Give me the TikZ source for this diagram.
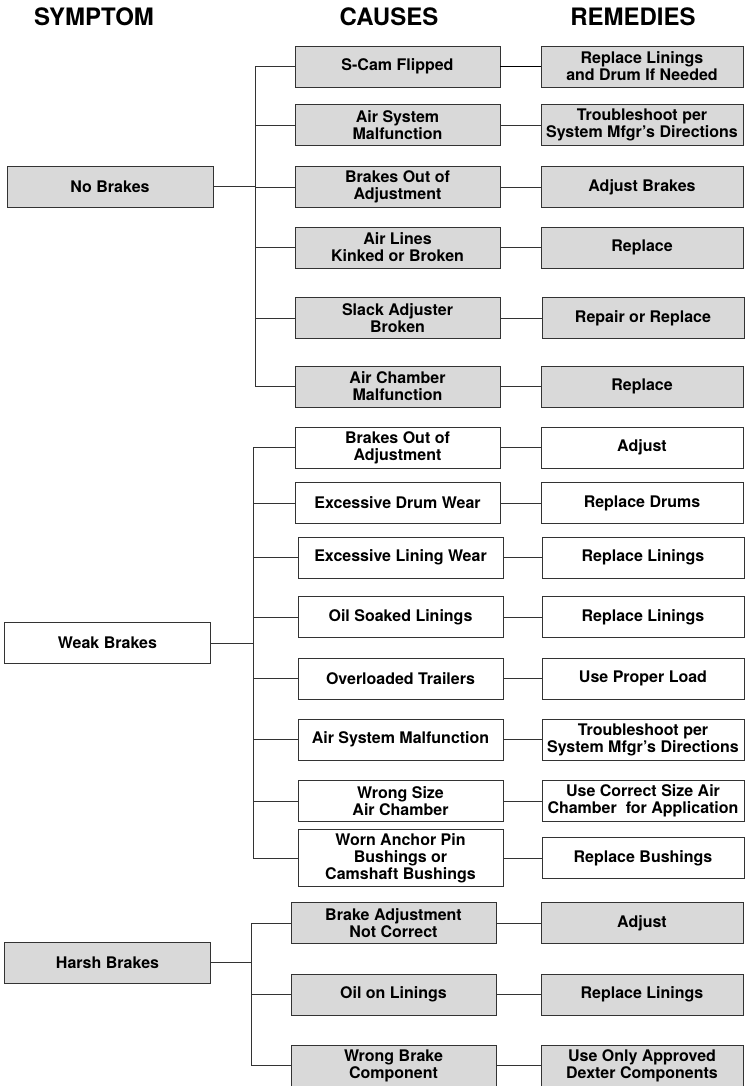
\documentclass[tikz,border=0pt]{standalone}
\usepackage{fontspec}
\setmainfont{TeX Gyre Heros}
\usepackage{tikz}
\tikzset{%
	box/.style      = {draw=black!80, line width=0.9pt, rectangle, inner sep=0pt,
		align=center, font=\bfseries\fontsize{16}{17}\selectfont},
	symptom/.style  = {box, minimum width=206pt, minimum height=41pt}, % Symptom
	cause/.style    = {box, minimum width=205pt, minimum height=41pt}, % Cause
	remedy/.style   = {box, minimum width=202pt, minimum height=41pt}, % Remedy
	filled/.style   = {fill=gray!30},
	unfilled/.style = {fill=white},
	head/.style     = {font=\bfseries\fontsize{24}{24}\selectfont},
	link/.style     = {draw=black!80, line width=0.8pt}
}
\begin{document}
\begin{tikzpicture}[x=1pt,y=-1pt]
	\useasboundingbox (0,0) rectangle (745,1086);
	
	\node[head] at (94,17) (hsym) {SYMPTOM};
	\node[head] at (389,17) (hcau) {CAUSES};
	\node[head] at (633,17) (hrem) {REMEDIES};
	
	% No Brakes
	\node[symptom, filled] at (110,186.5) (nb) {No Brakes};
	\node[cause, filled] at (397.5,66.5) (nbc1) {S-Cam Flipped};
	\node[cause, filled] at (397.5,125) (nbc2) {Air System\\Malfunction};
	\node[cause, filled] at (397.5,187) (nbc3) {Brakes Out of\\Adjustment};
	\node[cause, filled] at (397.5,247.5) (nbc4) {Air Lines\\Kinked or Broken};
	\node[cause, filled] at (397.5,318) (nbc5) {Slack Adjuster\\Broken};
	\node[cause, filled] at (397.5,386.5) (nbc6) {Air Chamber\\Malfunction};
	\node[remedy, filled] at (642,66.5) (nbr1) {Replace Linings\\and Drum If Needed};
	\node[remedy, filled] at (642,125) (nbr2) {Troubleshoot per\\System Mfgr's Directions};
	\node[remedy, filled] at (642,187) (nbr3) {Adjust Brakes};
	\node[remedy, filled] at (642,247.5) (nbr4) {Replace};
	\node[remedy, filled] at (643,318) (nbr5) {Repair or Replace};
	\node[remedy, filled] at (642,386.5) (nbr6) {Replace};
	\coordinate (nbbus) at (255,186.5);
	
	% Weak Brakes
	\node[symptom, unfilled] at (107.5,643) (wb) {Weak Brakes};
	\node[cause, unfilled] at (397.5,447.5) (wbc1) {Brakes Out of\\Adjustment};
	\node[cause, unfilled] at (397.5,503) (wbc2) {Excessive Drum Wear};
	\node[cause, unfilled] at (400.5,557.5) (wbc3) {Excessive Lining Wear};
	\node[cause, unfilled] at (400.5,617) (wbc4) {Oil Soaked Linings};
	\node[cause, unfilled] at (400.5,678.5) (wbc5) {Overloaded Trailers};
	\node[cause, unfilled] at (400.5,739.5) (wbc6) {Air System Malfunction};
	\node[cause, unfilled] at (400.5,801) (wbc7) {Wrong Size\\Air Chamber};
	\node[cause, unfilled, minimum height=57pt] at (400.5,858) (wbc8) {Worn Anchor Pin\\Bushings or\\Camshaft Bushings};
	\node[remedy, unfilled] at (642,447.5) (wbr1) {Adjust};
	\node[remedy, unfilled] at (642,503) (wbr2) {Replace Drums};
	\node[remedy, unfilled] at (643,557.5) (wbr3) {Replace Linings};
	\node[remedy, unfilled] at (643,617) (wbr4) {Replace Linings};
	\node[remedy, unfilled] at (643,678.5) (wbr5) {Use Proper Load};
	\node[remedy, unfilled] at (643,739.5) (wbr6) {Troubleshoot per\\System Mfgr's Directions};
	\node[remedy, unfilled] at (643,801) (wbr7) {Use Correct Size Air\\Chamber\ \ for Application};
	\node[remedy, unfilled] at (643,858) (wbr8) {Replace Bushings};
	\coordinate (wbbus) at (253,643);
	
	% Harsh Brakes
	\node[symptom, filled] at (107.5,962.5) (hb) {Harsh Brakes};
	\node[cause, filled] at (393.5,923) (hbc1) {Brake Adjustment\\Not Correct};
	\node[cause, filled] at (393.5,994.5) (hbc2) {Oil on Linings};
	\node[cause, filled] at (393.5,1065.5) (hbc3) {Wrong Brake\\Component};
	\node[remedy, filled] at (642,923) (hbr1) {Adjust};
	\node[remedy, filled] at (642,994.5) (hbr2) {Replace Linings};
	\node[remedy, filled] at (642,1065.5) (hbr3) {Use Only Approved\\Dexter Components};
	\coordinate (hbbus) at (251,962.5);
	
	\draw[link] (nb) -- (nbbus);
	\draw[link] (nbc1.west) -| (nbbus |- nbc6.west) -- (nbc6.west);
	\draw[link] (nbbus |- nbc2.west) -- (nbc2.west);
	\draw[link] (nbbus |- nbc3.west) -- (nbc3.west);
	\draw[link] (nbbus |- nbc4.west) -- (nbc4.west);
	\draw[link] (nbbus |- nbc5.west) -- (nbc5.west);
	\draw[link, draw=black, line width=1.8pt] (nbc1) -- (nbr1);
	\draw[link] (nbc2) -- (nbr2);
	\draw[link] (nbc3) -- (nbr3);
	\draw[link] (nbc4) -- (nbr4);
	\draw[link] (nbc5) -- (nbr5);
	\draw[link] (nbc6) -- (nbr6);
	
	\draw[link] (wb) -- (wbbus);
	\draw[link] (wbc1.west) -| (wbbus |- wbc8.west) -- (wbc8.west);
	\draw[link] (wbbus |- wbc2.west) -- (wbc2.west);
	\draw[link] (wbbus |- wbc3.west) -- (wbc3.west);
	\draw[link] (wbbus |- wbc4.west) -- (wbc4.west);
	\draw[link] (wbbus |- wbc5.west) -- (wbc5.west);
	\draw[link] (wbbus |- wbc6.west) -- (wbc6.west);
	\draw[link] (wbbus |- wbc7.west) -- (wbc7.west);
	\draw[link] (wbc1) -- (wbr1);
	\draw[link] (wbc2) -- (wbr2);
	\draw[link] (wbc3) -- (wbr3);
	\draw[link] (wbc4) -- (wbr4);
	\draw[link] (wbc5) -- (wbr5);
	\draw[link] (wbc6) -- (wbr6);
	\draw[link] (wbc7) -- (wbr7);
	\draw[link] (wbc8) -- (wbr8);
	
	\draw[link] (hb) -- (hbbus);
	\draw[link] (hbc1.west) -| (hbbus |- hbc3.west) -- (hbc3.west);
	\draw[link] (hbbus |- hbc2.west) -- (hbc2.west);
	\draw[link] (hbc1) -- (hbr1);
	\draw[link] (hbc2) -- (hbr2);
	\draw[link] (hbc3) -- (hbr3);
	
\end{tikzpicture}
\end{document}
